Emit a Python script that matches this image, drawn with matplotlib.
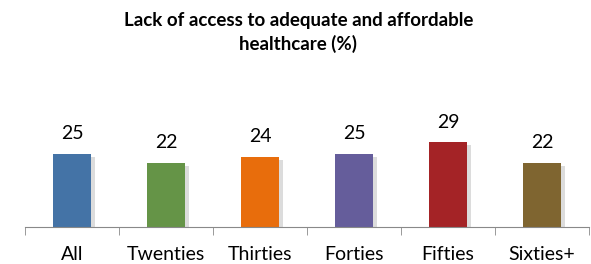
import matplotlib.pyplot as plt
import matplotlib.patheffects as pe

categories = ['All', 'Twenties', 'Thirties', 'Forties', 'Fifties', 'Sixties+']
values = [25, 22, 24, 25, 29, 22]
colors = ['#4473A6', '#659447', '#E86D0C', '#655D9B', '#A42326', '#7F6530']

plt.rcParams['font.family'] = ['Lato', 'DejaVu Sans']

fig = plt.figure(figsize=(5.91, 2.64), dpi=100)
ax = fig.add_axes([25 / 591, 37 / 264, 564 / 591, 146 / 264])

x = range(len(categories))
bars = ax.bar(x, values, width=0.4, color=colors)
for b in bars:
    b.set_path_effects([pe.SimplePatchShadow(offset=(3, -2), alpha=0.25, shadow_rgbFace='#777777'),
                        pe.Normal()])

for i, v in enumerate(values):
    ax.text(i, v + 4, str(v), ha='center', va='bottom', fontsize=14)

ax.set_xlim(-0.5, len(categories) - 0.5)
ax.set_ylim(0, 50)
ax.set_yticks([])
ax.set_xticks(x)
ax.set_xticklabels(categories, fontsize=14)
ax.set_xticks([i - 0.5 for i in range(len(categories) + 1)], minor=True)
ax.tick_params(axis='x', which='major', length=0, pad=14)
ax.tick_params(axis='x', which='minor', length=6, color='#898989')

for s in ['top', 'right', 'left']:
    ax.spines[s].set_visible(False)
ax.spines['bottom'].set_color('#898989')

fig.text(0.505, 0.955, 'Lack of access to adequate and affordable\nhealthcare (%)',
         ha='center', va='top', fontsize=13.5, fontweight='bold', linespacing=1.4)

fig.savefig('out.png', dpi=100)
